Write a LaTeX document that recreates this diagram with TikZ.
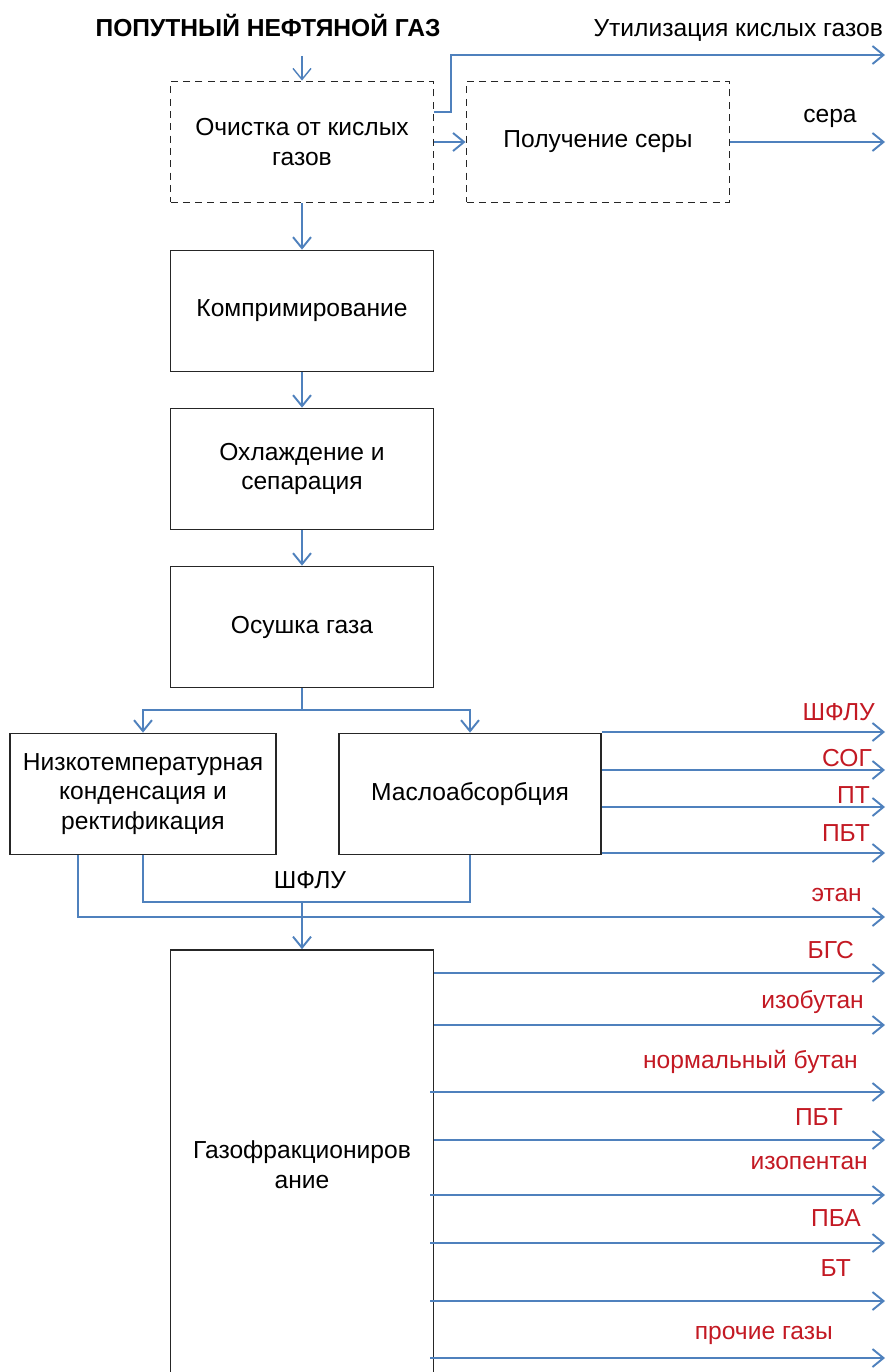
\documentclass[tikz,border=0pt]{standalone}
\usepackage{fontspec}
\setmainfont{Liberation Sans}
\usetikzlibrary{arrows.meta}
\definecolor{flowblue}{RGB}{79,129,189}
\definecolor{prodred}{RGB}{195,25,35}
\tikzset{
  box/.style={draw=black!85, line width=1pt, minimum width=5.26cm, minimum height=2.42cm, align=center, inner sep=2pt},
  dbox/.style={box, line width=1.1pt, dash pattern=on 4pt off 3pt},
  pipe/.style={draw=flowblue, line width=1.1pt},
  flow/.style={pipe, -{Straight Barb[length=2.2mm,width=3.6mm]}},
  prod/.style={text=prodred, anchor=east},
}
\begin{document}
\begin{tikzpicture}[x=0.02cm, y=-0.02cm, every node/.style={font=\fontsize{14}{17}\selectfont}]
        \clip (0,0) rectangle (889,1372);
        % feed and acid gas treatment
        \node[font=\fontsize{14}{17}\selectfont\bfseries] (title) at (268,25) {ПОПУТНЫЙ НЕФТЯНОЙ ГАЗ};
        \coordinate (feed) at (302,56);
        \node[dbox] (clean) at (302,142) {Очистка от кислых\\газов};
        \node[dbox] (sulf) at (598,142) {Получение серы};
        \coordinate (acidout) at (885,55);
        \coordinate (sulfout) at (885,142);
        \node[anchor=east] (acidlab) at (889,30) {Утилизация кислых газов};
        \node (sulflab) at (830,118) {сера};
        \draw[flow, line width=0.8pt] (feed) -- (clean.north);
        \draw[flow] (clean.east) -- (sulf.west);
        \draw[flow] ([yshift=0.6cm]clean.east) -- ++(17,0) |- (acidout);
        \draw[flow] (sulf.east) -- (sulfout);
        % main line
        \node[box] (comp) at (302,311) {Компримирование};
        \node[box] (cool) at (302,469) {Охлаждение и\\сепарация};
        \node[box] (dry) at (302,627) {Осушка газа};
        \draw[flow] (clean) -- (comp);
        \draw[flow] (comp) -- (cool);
        \draw[flow] (cool) -- (dry);
        % two ways of separation
        \coordinate (split) at (302,710);
        \node[box, minimum width=5.32cm] (ltc) at (143,794) {Низкотемпературная\\конденсация и\\ректификация};
        \node[box, minimum width=5.24cm] (oil) at (470,794) {Маслоабсорбция};
        \draw[pipe] (dry) -- (split);
        \draw[flow] (split) -| (ltc.north);
        \draw[flow] (split) -| (oil.north);
        \coordinate (o1) at (885,732);
        \coordinate (o2) at (885,770);
        \coordinate (o3) at (885,807);
        \coordinate (o4) at (885,853);
        \draw[flow] (oil.east |- o1) -- (o1);
        \draw[flow] (oil.east |- o2) -- (o2);
        \draw[flow] (oil.east |- o3) -- (o3);
        \draw[flow] (oil.east |- o4) -- (o4);
        \node[prod] (lo1) at (881,712) {ШФЛУ};
        \node[prod] (lo2) at (878,758) {СОГ};
        \node[prod] (lo3) at (876,795) {ПТ};
        \node[prod] (lo4) at (876,833) {ПБТ};
        % NGL collection and ethane
        \coordinate (shflu) at (302,902);
        \coordinate (ethout) at (885,917);
        \draw[pipe] (ltc.south) |- (shflu);
        \draw[pipe] (oil.south) |- (shflu);
        \node (shflulab) at (310,880) {ШФЛУ};
        \draw[flow] ([xshift=-1.3cm]ltc.south) |- (ethout);
        \node[prod] (leth) at (868,895) {этан};
        % fractionation
        \node[box, minimum height=8.6cm] (gfu) at (302,1165) {Газофракциониров\\ание};
        \draw[flow] (shflu) -- (gfu.north);
        \coordinate (g1) at (885,973);
        \coordinate (g2) at (885,1025);
        \coordinate (g3) at (885,1092);
        \coordinate (g4) at (885,1140);
        \coordinate (g5) at (885,1195);
        \coordinate (g6) at (885,1243);
        \coordinate (g7) at (885,1301);
        \coordinate (g8) at (885,1358);
        \draw[flow] (gfu.east |- g1) -- (g1);
        \draw[flow] (gfu.east |- g2) -- (g2);
        \draw[flow] ([xshift=-0.08cm]gfu.east |- g3) -- (g3);
        \draw[flow] (gfu.east |- g4) -- (g4);
        \draw[flow] ([xshift=-0.08cm]gfu.east |- g5) -- (g5);
        \draw[flow] ([xshift=-0.08cm]gfu.east |- g6) -- (g6);
        \draw[flow] ([xshift=-0.08cm]gfu.east |- g7) -- (g7);
        \draw[flow] ([xshift=-0.08cm]gfu.east |- g8) -- (g8);
        \node[prod] (lg1) at (860,950) {БГС};
        \node[prod] (lg2) at (870,1002) {изобутан};
        \node[prod] (lg3) at (864,1062) {нормальный бутан};
        \node[prod] (lg4) at (849,1117) {ПБТ};
        \node[prod] (lg5) at (874,1163) {изопентан};
        \node[prod] (lg6) at (867,1218) {ПБА};
        \node[prod] (lg7) at (857,1268) {БТ};
        \node[prod] (lg8) at (839,1335) {прочие газы};
    \end{tikzpicture}
\end{document}
